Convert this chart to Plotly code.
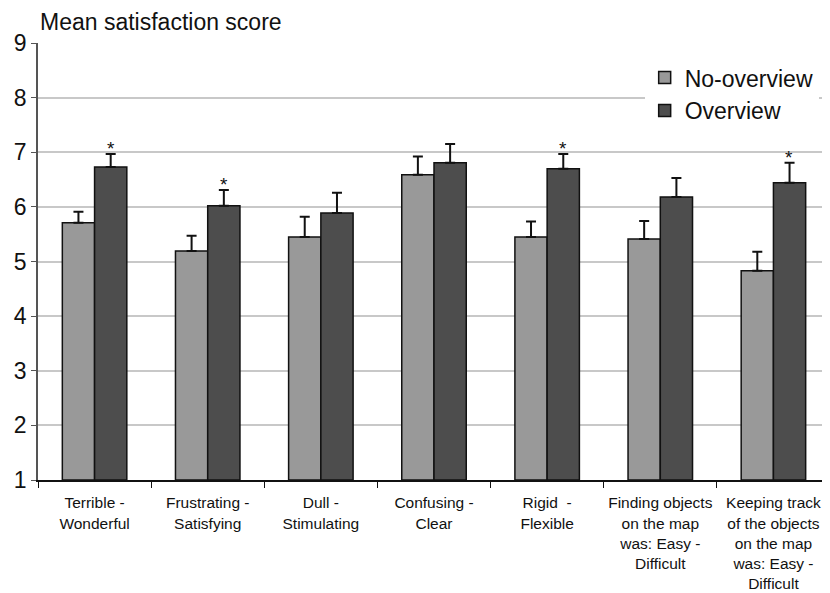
import plotly.graph_objects as go

categories = ["Terrible -<br>Wonderful", "Frustrating -<br>Satisfying", "Dull -<br>Stimulating",
              "Confusing -<br>Clear", "Rigid  -<br>Flexible",
              "Finding objects<br>on the map<br>was: Easy -<br>Difficult",
              "Keeping track<br>of the objects<br>on the map<br>was: Easy -<br>Difficult"]
no_overview = [5.71, 5.19, 5.45, 6.59, 5.45, 5.41, 4.83]
no_overview_err = [0.20, 0.28, 0.37, 0.33, 0.28, 0.33, 0.35]
overview = [6.73, 6.02, 5.89, 6.81, 6.70, 6.18, 6.44]
overview_err = [0.24, 0.29, 0.37, 0.34, 0.27, 0.35, 0.37]
significant = [True, True, False, False, True, False, True]

fig = go.Figure()
fig.add_trace(go.Bar(
    name="No-overview", x=categories, y=[v - 1 for v in no_overview], base=1,
    marker=dict(color="#999999", line=dict(color="#111111", width=1.5)),
    error_y=dict(type="data", symmetric=False, array=no_overview_err,
                 arrayminus=[0] * len(no_overview), color="#111111", thickness=2, width=5),
))
fig.add_trace(go.Bar(
    name="Overview", x=categories, y=[v - 1 for v in overview], base=1,
    marker=dict(color="#4d4d4d", line=dict(color="#111111", width=1.5)),
    error_y=dict(type="data", symmetric=False, array=overview_err,
                 arrayminus=[0] * len(overview), color="#111111", thickness=2, width=5),
))

for i, (cat, sig) in enumerate(zip(categories, significant)):
    if sig:
        fig.add_annotation(x=cat, y=overview[i] + overview_err[i], text="*",
                           showarrow=False, yanchor="bottom", xshift=16, yshift=-7,
                           font=dict(size=19, color="#111111"))

fig.add_annotation(xref="paper", yref="paper", x=0, y=1, xanchor="left", yanchor="bottom",
                   yshift=6, text="Mean satisfaction score", showarrow=False,
                   font=dict(size=23, color="#111111"))

fig.update_layout(
    width=822, height=585,
    margin=dict(l=30, r=0, t=35, b=113),
    paper_bgcolor="white", plot_bgcolor="white",
    font=dict(family="Liberation Sans, Arial, sans-serif", color="#111111"),
    barmode="group", bargap=0.43, bargroupgap=0,
    showlegend=True,
    legend=dict(x=0.766, y=0.97, xanchor="left", yanchor="top", bgcolor="white",
                font=dict(size=23), itemwidth=30, tracegroupgap=0),
    xaxis=dict(showline=True, linecolor="#111111", linewidth=1.5, ticks="outside",
               tickson="boundaries", ticklen=6, tickcolor="#111111", tickangle=0,
               ticklabelstandoff=8,
               automargin=False, tickfont=dict(size=15.5), showgrid=False),
    yaxis=dict(range=[1, 9], dtick=1, showline=True, linecolor="#555555", linewidth=1.5,
               ticks="outside", ticklen=5, tickcolor="#555555", tickfont=dict(size=23),
               automargin=False,
               showgrid=True, gridcolor="#c8c8c8", gridwidth=1.5, zeroline=False),
)

fig.write_html("out.html")
